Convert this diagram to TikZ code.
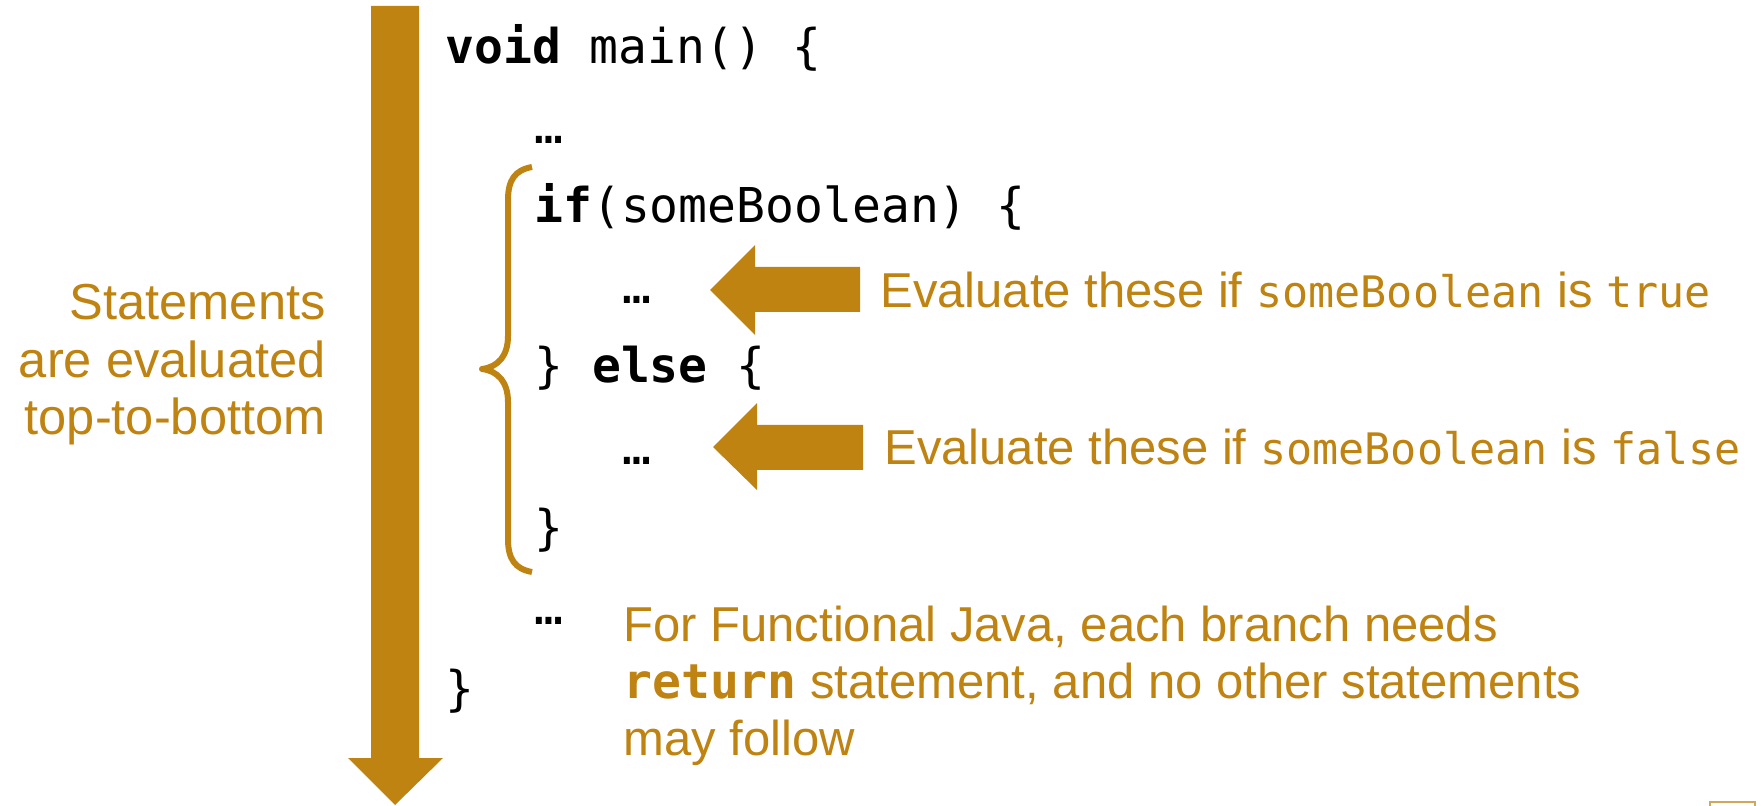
\documentclass[tikz,border=0pt]{standalone}
\usepackage{fontspec}
\setmainfont{Liberation Sans}
\newfontfamily\codefont{DejaVu Sans Mono}
\definecolor{gold}{RGB}{191,131,17}
\newcommand{\lcode}[1]{{\codefont\fontsize{21.7}{26}\selectfont #1}}
\begin{document}
\begin{tikzpicture}[x=0.5pt,y=-0.5pt,
  code/.style={anchor=base west,inner sep=0pt,font=\codefont\fontsize{24}{28}\selectfont},
  lbl/.style={anchor=base west,inner sep=0pt,text=gold,font=\fontsize{24.5}{29}\selectfont},
  sidelbl/.style={anchor=base east,inner sep=0pt,text=gold,font=\fontsize{25.3}{30}\selectfont},
  blockarrow/.style={fill=gold,draw=none},
  bracestyle/.style={draw=gold,line width=3pt,line join=round}]
\useasboundingbox (0,0) rectangle (1762,806);

% flow arrow
\fill[blockarrow] (371,6) -- (419,6) -- (419,758) -- (443,758) -- (395,805) -- (348,758) -- (371,758) -- cycle;

% code
\node[code] (l1) at (445,64) {{\bfseries void} main() \{};
\node[code] (l2) at (534,144) {…};
\node[code] (l3) at (534,223) {{\bfseries if}(someBoolean) \{};
\node[code] (l4) at (622,304) {…};
\node[code] (l5) at (534,383) {\} {\bfseries else} \{};
\node[code] (l6) at (622,465) {…};
\node[code] (l7) at (534,545) {\}};
\node[code] (l8) at (534,625) {…};
\node[code] (l9) at (445,705) {\}};

% brace
\draw[bracestyle] (532,167) .. controls (515,170) and (508,180) .. (508,200) -- (508,336)
  .. controls (508,356) and (498,367) .. (482,369)
  .. controls (498,371) and (508,382) .. (508,402) -- (508,539)
  .. controls (508,559) and (515,569) .. (532,572);

% side arrows
\fill[blockarrow] (710,290) -- (755,245) -- (755,267) -- (860,267) -- (860,312) -- (755,312) -- (755,335) -- cycle;
\fill[blockarrow] (713,447) -- (757,403) -- (757,425) -- (863,425) -- (863,470) -- (757,470) -- (757,490) -- cycle;

\node[lbl] (t1) at (880,308) {Evaluate these if \lcode{someBoolean} is \lcode{true}};
\node[lbl] (t2) at (884,465) {Evaluate these if \lcode{someBoolean} is \lcode{false}};

% left label
\node[sidelbl] (s1) at (326,320) {Statements};
\node[sidelbl] (s2) at (326,378) {are evaluated};
\node[sidelbl] (s3) at (326,435) {top-to-bottom};

% footnote
\node[lbl] (f1) at (623,642) {For Functional Java, each branch needs};
\node[lbl] (f2) at (623,698) {{\codefont\bfseries\fontsize{24}{28}\selectfont return} statement, and no other statements};
\node[lbl] (f3) at (623,755) {may follow};

% corner box
\draw[gold!70,line width=0.6pt] (1710,802) rectangle (1755,812);
\end{tikzpicture}
\end{document}
